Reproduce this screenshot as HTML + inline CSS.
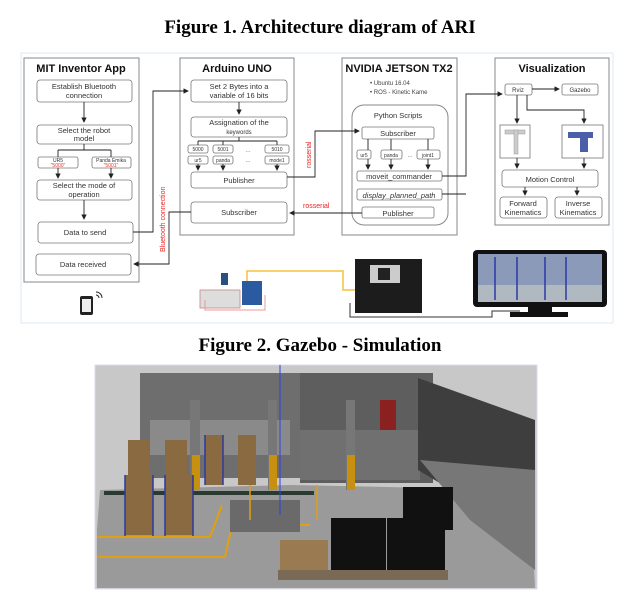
<!DOCTYPE html>
<html><head><style>
body{margin:0;background:#fff;}
svg{display:block}
text{font-family:"Liberation Sans",sans-serif;}
</style></head><body>
<svg width="640" height="591" viewBox="0 0 640 591" xmlns="http://www.w3.org/2000/svg">
<defs><marker id="a" markerWidth="6" markerHeight="6" refX="5" refY="3" orient="auto"><path d="M0,0 L6,3 L0,6z" fill="#222"/></marker></defs>
<text x="320" y="33" text-anchor="middle" font-family="Liberation Serif" font-weight="bold" font-size="19" style="font-family:'Liberation Serif',serif">Figure 1. Architecture diagram of  ARI</text>
<rect x="21" y="53" width="592" height="270" fill="#fff" stroke="#dfe8f0"/>
<g fill="#fff" stroke="#888" stroke-width="1">
<rect x="24" y="58" width="115" height="224"/>
<rect x="180" y="58" width="114" height="177"/>
<rect x="342" y="58" width="115" height="177"/>
<rect x="495" y="58" width="114" height="167"/>
<rect x="352" y="105" width="96" height="120" rx="12"/>
</g>
<g font-weight="bold" font-size="11" text-anchor="middle" fill="#111">
<text x="81" y="72">MIT Inventor App</text>
<text x="237" y="72">Arduino UNO</text>
<text x="399" y="72">NVIDIA JETSON TX2</text>
<text x="552" y="72">Visualization</text>
</g>
<g fill="#fff" stroke="#777" stroke-width="0.8">
<rect x="37" y="80" width="95" height="22" rx="3"/>
<rect x="37" y="125" width="95" height="19" rx="3"/>
<rect x="38" y="157" width="40" height="11" rx="2"/>
<rect x="92" y="157" width="39" height="11" rx="2"/>
<rect x="37" y="180" width="95" height="20" rx="3"/>
<rect x="38" y="222" width="95" height="21" rx="3"/>
<rect x="36" y="254" width="95" height="21" rx="3"/>
<rect x="191" y="80" width="96" height="22" rx="3"/>
<rect x="191" y="117" width="96" height="20" rx="3"/>
<rect x="188" y="145" width="20" height="8" rx="2"/><rect x="213" y="145" width="20" height="8" rx="2"/><rect x="265" y="145" width="24" height="8" rx="2"/>
<rect x="188" y="156" width="20" height="8" rx="2"/><rect x="213" y="156" width="20" height="8" rx="2"/><rect x="265" y="156" width="24" height="8" rx="2"/>
<rect x="191" y="172" width="96" height="16" rx="3"/>
<rect x="191" y="202" width="96" height="21" rx="3"/>
<rect x="362" y="127" width="72" height="12" rx="2"/>
<rect x="357" y="150" width="14" height="9" rx="2"/><rect x="381" y="150" width="21" height="9" rx="2"/><rect x="417" y="150" width="23" height="9" rx="2"/>
<rect x="357" y="171" width="85" height="10" rx="2"/>
<rect x="357" y="189" width="85" height="11" rx="2"/>
<rect x="362" y="207" width="72" height="11" rx="2"/>
<rect x="505" y="84" width="27" height="11" rx="2"/>
<rect x="562" y="84" width="36" height="11" rx="2"/>
<rect x="500" y="125" width="30" height="33"/>
<rect x="562" y="125" width="41" height="33"/>
<rect x="502" y="170" width="96" height="17" rx="3"/>
<rect x="500" y="197" width="47" height="21" rx="3"/>
<rect x="555" y="197" width="47" height="21" rx="3"/>
</g>
<g font-size="7.5" text-anchor="middle" fill="#333">
<text x="84" y="89">Establish Bluetooth</text><text x="84" y="98">connection</text>
<text x="84" y="133">Select the robot</text><text x="84" y="141">model</text>
<text x="84" y="188">Select the mode of</text><text x="84" y="197">operation</text>
<text x="85" y="235">Data to send</text>
<text x="83" y="267">Data received</text>
<text x="239" y="89">Set 2 Bytes into a</text><text x="239" y="98">variable of 16 bits</text>
<text x="239" y="125">Assignation of the</text><text x="239" y="134" font-size="6">keywords</text>
<text x="239" y="183">Publisher</text>
<text x="239" y="215">Subscriber</text>
<text x="398" y="118">Python Scripts</text>
<text x="398" y="136">Subscriber</text>
<text x="399" y="179">moveit_commander</text>
<text x="399" y="198" font-style="italic">display_planned_path</text>
<text x="398" y="216">Publisher</text>
<text x="550" y="182">Motion Control</text>
<text x="523" y="206">Forward</text><text x="523" y="215">Kinematics</text>
<text x="578" y="206">Inverse</text><text x="578" y="215">Kinematics</text>
<text x="518" y="92" font-size="6">Rviz</text><text x="580" y="92" font-size="6">Gazebo</text>
</g>
<g font-size="5" text-anchor="middle" fill="#333">
<text x="58" y="162">UR5</text><text x="111" y="162">Panda Emika</text>
<text x="198" y="151">5000</text><text x="223" y="151">5001</text><text x="277" y="151">5010</text>
<text x="198" y="162">ur5</text><text x="223" y="162">panda</text><text x="277" y="162">mode1</text>
<text x="364" y="157">ur5</text><text x="391" y="157">panda</text><text x="428" y="157">joint1</text>
<text x="248" y="152">…</text><text x="248" y="162">…</text><text x="410" y="157">…</text>
</g>
<g font-size="5" text-anchor="middle" fill="#e33"><text x="58" y="167">"5000"</text><text x="111" y="167">"5001"</text></g>
<g font-size="6" fill="#444"><text x="370" y="85">•  Ubuntu 16.04</text><text x="370" y="94">•  ROS - Kinetic Kame</text></g>
<g stroke="#222" stroke-width="0.9" fill="none">
<path d="M84 102V122" marker-end="url(#a)"/>
<path d="M84 144V150M58 150H111M58 150V157M111 150V157"/>
<path d="M58 168V178" marker-end="url(#a)"/><path d="M111 168V178" marker-end="url(#a)"/>
<path d="M84 200V219" marker-end="url(#a)"/>
<path d="M133 232H153V91H188" marker-end="url(#a)"/>
<path d="M191 212H169V264H134" marker-end="url(#a)"/>
<path d="M239 102V114" marker-end="url(#a)"/>
<path d="M239 137V141M198 141H277M198 141V145M223 141V145M277 141V145"/>
<path d="M198 164V170" marker-end="url(#a)"/><path d="M223 164V170" marker-end="url(#a)"/><path d="M277 164V170" marker-end="url(#a)"/>
<path d="M287 177H315V131H359" marker-end="url(#a)"/>
<path d="M362 213H290" marker-end="url(#a)"/>
<path d="M368 139V150M391 139V150M428 139V150"/>
<path d="M368 159V169" marker-end="url(#a)"/><path d="M391 159V169" marker-end="url(#a)"/><path d="M428 159V169" marker-end="url(#a)"/>
<path d="M442 176H466V94H502" marker-end="url(#a)"/>
<path d="M442 194H466"/>
<path d="M532 89H559" marker-end="url(#a)"/>
<path d="M517 95V123" marker-end="url(#a)"/>
<path d="M527 95V110H584V123" marker-end="url(#a)"/>
<path d="M517 158V168" marker-end="url(#a)"/><path d="M584 158V168" marker-end="url(#a)"/>
<path d="M525 187V195" marker-end="url(#a)"/><path d="M577 187V195" marker-end="url(#a)"/>
</g>
<text x="0" y="0" font-size="7" fill="#e22" transform="translate(165,252) rotate(-90)">Bluetooth connection</text>
<text x="0" y="0" font-size="7" fill="#e22" transform="translate(311,168) rotate(-90)">rosserial</text>
<text x="303" y="208" font-size="7" fill="#e22">rosserial</text>
<g fill="#ccc" stroke="#999" stroke-width="0.5"><rect x="505" y="130" width="20" height="4"/><rect x="514" y="130" width="4" height="24"/></g>
<g fill="#4a5fa8"><rect x="568" y="132" width="25" height="6"/><rect x="580" y="137" width="8" height="15"/></g>
<rect x="80" y="296" width="13" height="19" rx="2" fill="#222"/><rect x="82" y="299" width="9" height="13" fill="#eee"/>
<path d="M96 292a6 6 0 0 1 6 6M96 295a3 3 0 0 1 3 3" stroke="#222" fill="none"/>
<rect x="200" y="290" width="40" height="18" fill="#ddd" stroke="#c99"/>
<rect x="221" y="273" width="7" height="12" fill="#2a5080"/>
<rect x="242" y="281" width="20" height="24" fill="#2a5aa0"/>
<path d="M247 281V271H343V290H355" stroke="#f5c040" stroke-width="1.5" fill="none"/>
<path d="M205 300V310H265V295" stroke="#e99" fill="none"/>
<rect x="355" y="259" width="67" height="54" fill="#1c1c1c"/>
<rect x="370" y="265" width="30" height="18" fill="#ccc"/><rect x="378" y="268" width="12" height="12" fill="#222"/>
<path d="M350 303V317H492V311H520" stroke="#333" fill="none"/>
<rect x="473" y="250" width="134" height="57" rx="4" fill="#111"/>
<rect x="478" y="254" width="124" height="48" fill="#8a9ab8"/>
<rect x="478" y="285" width="124" height="17" fill="#b0b8c0"/>
<g stroke="#2a3aa8" stroke-width="1.5"><path d="M495 257V300M517 257V300M545 257V300M566 257V300"/></g>
<rect x="528" y="307" width="24" height="5" fill="#111"/><rect x="510" y="312" width="58" height="5" fill="#111"/>
<text x="320" y="351" text-anchor="middle" font-weight="bold" font-size="19" style="font-family:'Liberation Serif',serif">Figure 2. Gazebo - Simulation</text>
<rect x="95" y="365" width="442" height="224" fill="#c8c8c8" stroke="#dde"/>
<polygon points="97,530 100,490 290,485 530,490 535,588 97,588" fill="#9a9a9a"/>
<rect x="140" y="373" width="236" height="105" fill="#6e6e6e"/>
<rect x="150" y="420" width="140" height="35" fill="#8a8a8a"/>
<rect x="300" y="373" width="133" height="110" fill="#5e5e5e"/>
<rect x="300" y="430" width="120" height="50" fill="#707070"/>
<rect x="380" y="400" width="16" height="30" fill="#8a2020"/>
<polygon points="418,378 535,420 535,540 418,470" fill="#3e3e3e"/>
<polygon points="420,460 535,470 535,570 470,520" fill="#777"/>
<rect x="190" y="400" width="10" height="90" fill="#777"/><rect x="192" y="455" width="8" height="35" fill="#c89010"/>
<rect x="268" y="400" width="9" height="90" fill="#777"/><rect x="269" y="455" width="8" height="35" fill="#c89010"/>
<rect x="346" y="400" width="9" height="90" fill="#777"/><rect x="347" y="455" width="8" height="35" fill="#c89010"/>
<rect x="104" y="491" width="210" height="4" fill="#2a3a30"/>
<g fill="#8a6a40"><rect x="128" y="440" width="22" height="60"/><rect x="165" y="440" width="22" height="60"/><rect x="205" y="435" width="18" height="50"/><rect x="238" y="435" width="18" height="50"/><rect x="125" y="475" width="28" height="60"/><rect x="165" y="475" width="28" height="60"/></g>
<g stroke="#2a3aa0" stroke-width="1.5"><path d="M125 475V537M153 475V537M165 475V537M193 475V537M205 435V485M223 435V485"/></g>
<path d="M97 537H210L222 505M97 557H225L232 525H310" stroke="#e0a010" stroke-width="2" fill="none"/>
<rect x="230" y="500" width="70" height="32" fill="#6a6a6a"/>
<path d="M250 485V520M317 485V520" stroke="#e0a010" stroke-width="1.5"/>
<line x1="280" y1="365" x2="280" y2="515" stroke="#3040e0"/>
<rect x="403" y="487" width="50" height="43" fill="#111"/>
<rect x="331" y="518" width="55" height="58" fill="#111"/>
<rect x="387" y="518" width="58" height="58" fill="#111"/>
<rect x="280" y="540" width="48" height="30" fill="#9a7a50"/>
<rect x="278" y="570" width="170" height="10" fill="#7a6a55"/>
</svg>
</body></html>
